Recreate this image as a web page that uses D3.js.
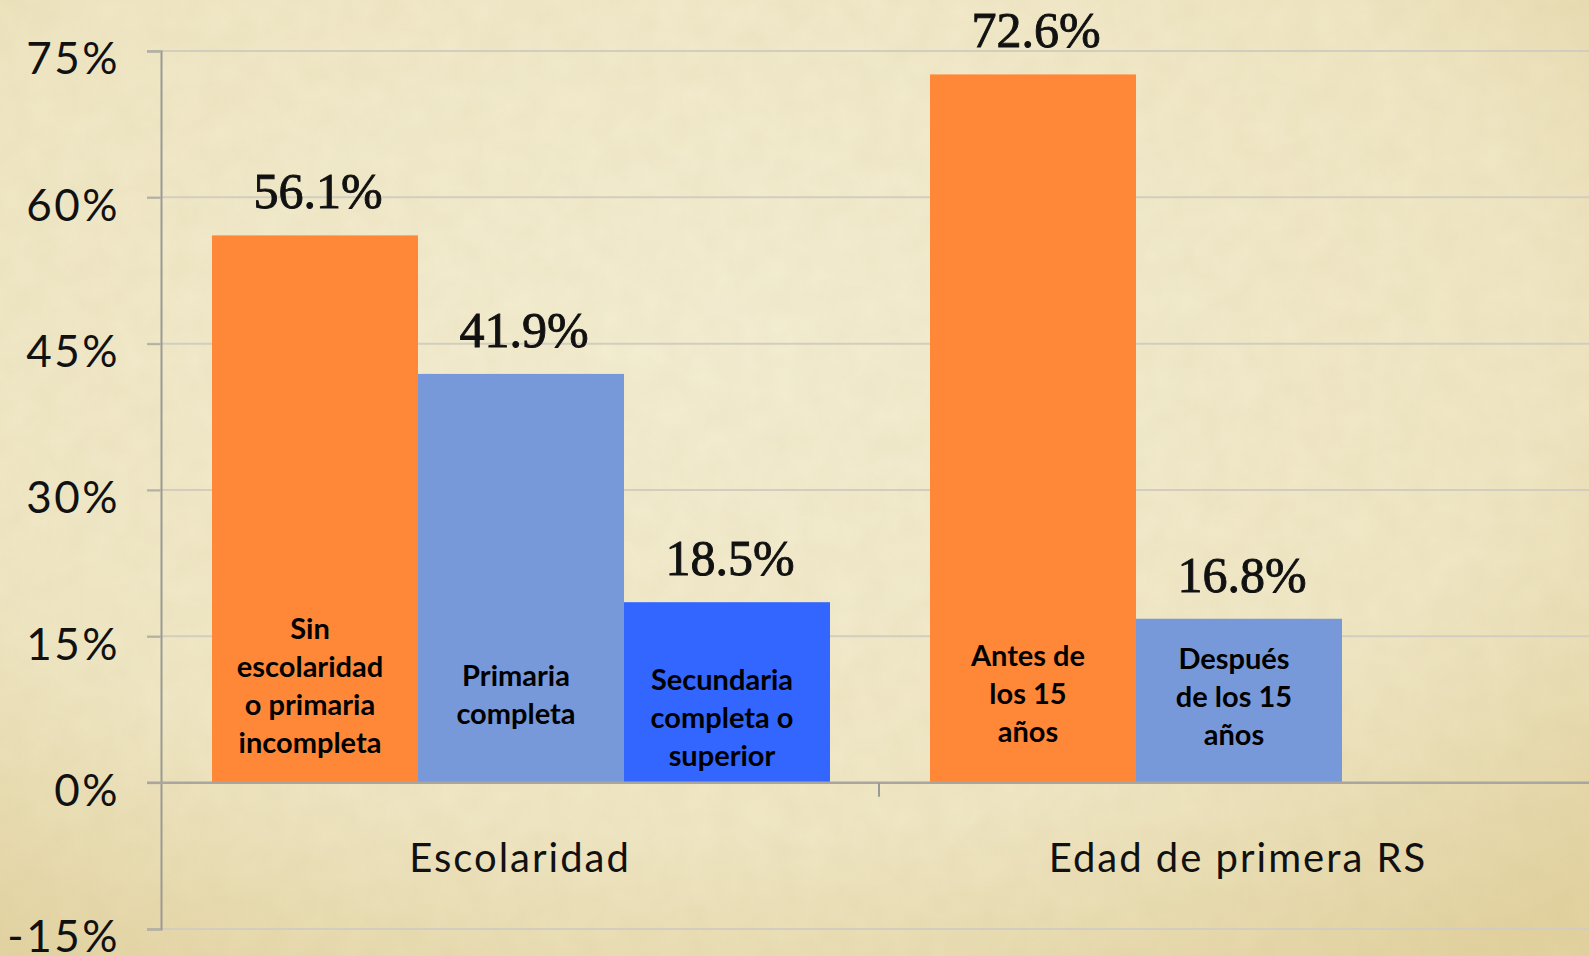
<!DOCTYPE html>
<html lang="es">
<head>
<meta charset="utf-8">
<script src="https://d3js.org/d3.v7.min.js"></script>
<style>
  html, body { margin: 0; padding: 0; overflow: hidden; background: #f1eacb; }
</style>
</head>
<body>
<script>
// categories and series
const groups = ["Escolaridad", "Edad de primera RS"];
const seriesKeys = ["s1", "s2", "s3"];
const escolaridadValues = [56.1, 41.9, 18.5];
const edadValues = [72.6, 16.8];
const escolaridadLabels = [
  ["Sin", "escolaridad", "o primaria", "incompleta"],
  ["Primaria", "completa"],
  ["Secundaria", "completa o", "superior"]
];
const edadLabels = [
  ["Antes de", "los 15", "años"],
  ["Después", "de los 15", "años"]
];
const yTicks = [-15, 0, 15, 30, 45, 60, 75];

// layout
const W = 1589, H = 956;
const axisX = 161, yTop = 51, yBottom = 929;
const groupWidth = 718, barsOffset = 51, barsWidth = 618;
const colours = { s1: "#ff8838", s2: "#7799d9", s3: "#3366ff" };
// vertical centre of each in-bar caption block (pixels), placed by hand in the original
const captionCentre = [[686, 695, 718], [694, 697]];

const data = [
  { group: groups[0], values: escolaridadValues, labels: escolaridadLabels },
  { group: groups[1], values: edadValues, labels: edadLabels }
];

const svg = d3.select("body").append("svg")
  .attr("width", W).attr("height", H);

// paper background
const defs = svg.append("defs");
const grad = defs.append("radialGradient").attr("id", "paper")
  .attr("cx", "45%").attr("cy", "35%").attr("r", "80%");
grad.append("stop").attr("offset", "0%").attr("stop-color", "#f3edd2");
grad.append("stop").attr("offset", "65%").attr("stop-color", "#efe6c4");
grad.append("stop").attr("offset", "100%").attr("stop-color", "#e2d2a0");
const noise = defs.append("filter").attr("id", "grain")
  .attr("x", 0).attr("y", 0).attr("width", "100%").attr("height", "100%");
noise.append("feTurbulence").attr("type", "fractalNoise")
  .attr("baseFrequency", 0.035).attr("numOctaves", 4).attr("seed", 7);
noise.append("feColorMatrix").attr("type", "matrix")
  .attr("values", "0 0 0 0 0.55  0 0 0 0 0.45  0 0 0 0 0.2  0 0 0 0.35 -0.05");
svg.append("rect").attr("width", W).attr("height", H).attr("fill", "url(#paper)");
svg.append("rect").attr("width", W).attr("height", H).attr("filter", "url(#grain)").attr("opacity", 0.35);

// scales
const y = d3.scaleLinear().domain([-15, 75]).range([yBottom, yTop]);
const x0 = d3.scaleBand().domain(groups).range([axisX, axisX + groupWidth * groups.length]);
const x1 = d3.scaleBand().domain(seriesKeys).range([barsOffset, barsOffset + barsWidth]);

// gridlines
svg.append("g")
  .selectAll("line").data(yTicks.filter(d => d !== 0)).join("line")
  .attr("x1", axisX - 14).attr("x2", W)
  .attr("y1", d => y(d)).attr("y2", d => y(d))
  .attr("stroke", "#d2cdbf").attr("stroke-width", 2);

// y axis
const yAxis = svg.append("g")
  .attr("transform", `translate(${axisX},0)`)
  .call(d3.axisLeft(y).tickValues(yTicks).tickSize(14).tickFormat(d => d + "%"));
yAxis.select(".domain").attr("stroke", "#9a9a94").attr("stroke-width", 2);
yAxis.selectAll(".tick line").attr("stroke", "#b4b0a4").attr("stroke-width", 2);
yAxis.selectAll(".tick text")
  .attr("x", -41).attr("dy", "0.52em")
  .attr("font-family", "Lato, sans-serif").attr("font-size", 44)
  .attr("letter-spacing", 2.5).attr("fill", "#111");

// bars
const groupG = svg.append("g").selectAll("g").data(data).join("g")
  .attr("transform", d => `translate(${x0(d.group)},0)`);

groupG.selectAll("rect")
  .data(d => d.values.map((v, i) => ({ key: seriesKeys[i], value: v })))
  .join("rect")
  .attr("x", d => x1(d.key))
  .attr("width", x1.bandwidth())
  .attr("y", d => y(d.value))
  .attr("height", d => y(0) - y(d.value))
  .attr("fill", d => colours[d.key]);

// value labels
groupG.selectAll("text.value")
  .data(d => d.values.map((v, i) => ({ key: seriesKeys[i], value: v })))
  .join("text").attr("class", "value")
  .attr("x", d => x1(d.key) + x1.bandwidth() / 2 + 3)
  .attr("y", d => y(d.value) - 27)
  .attr("text-anchor", "middle")
  .attr("font-family", "'Liberation Serif', serif")
  .attr("font-size", 50)
  .attr("fill", "#111")
  .attr("stroke", "#111").attr("stroke-width", 0.9)
  .text(d => d.value.toFixed(1) + "%");

// in-bar captions
groupG.each(function(d, gi) {
  const g = d3.select(this);
  d.labels.forEach((lines, i) => {
    const cx = x1(seriesKeys[i]) + x1.bandwidth() / 2 - 5;
    const lh = 38;
    const first = captionCentre[gi][i] - (lines.length - 1) * lh / 2;
    g.append("text")
      .attr("text-anchor", "middle")
      .attr("font-family", "Lato, sans-serif")
      .attr("font-weight", 700)
      .attr("font-size", 29)
      .attr("fill", "#000")
      .selectAll("tspan").data(lines).join("tspan")
      .attr("x", cx)
      .attr("y", (t, k) => first + k * lh)
      .attr("dy", "0.35em")
      .text(t => t);
  });
});

// baseline and category axis
svg.append("line")
  .attr("x1", axisX - 14).attr("x2", W)
  .attr("y1", y(0)).attr("y2", y(0))
  .attr("stroke", "#a8a69e").attr("stroke-width", 2.5);
svg.append("g").selectAll("line").data(groups.slice(1)).join("line")
  .attr("x1", d => x0(d)).attr("x2", d => x0(d))
  .attr("y1", y(0)).attr("y2", y(0) + 14)
  .attr("stroke", "#9a9a94").attr("stroke-width", 2);

svg.append("g").selectAll("text").data(groups).join("text")
  .attr("x", d => x0(d) + x0.bandwidth() / 2)
  .attr("y", 872)
  .attr("text-anchor", "middle")
  .attr("font-family", "Lato, sans-serif")
  .attr("font-size", 40)
  .attr("letter-spacing", 2)
  .attr("fill", "#111")
  .text(d => d);
</script>
</body>
</html>
